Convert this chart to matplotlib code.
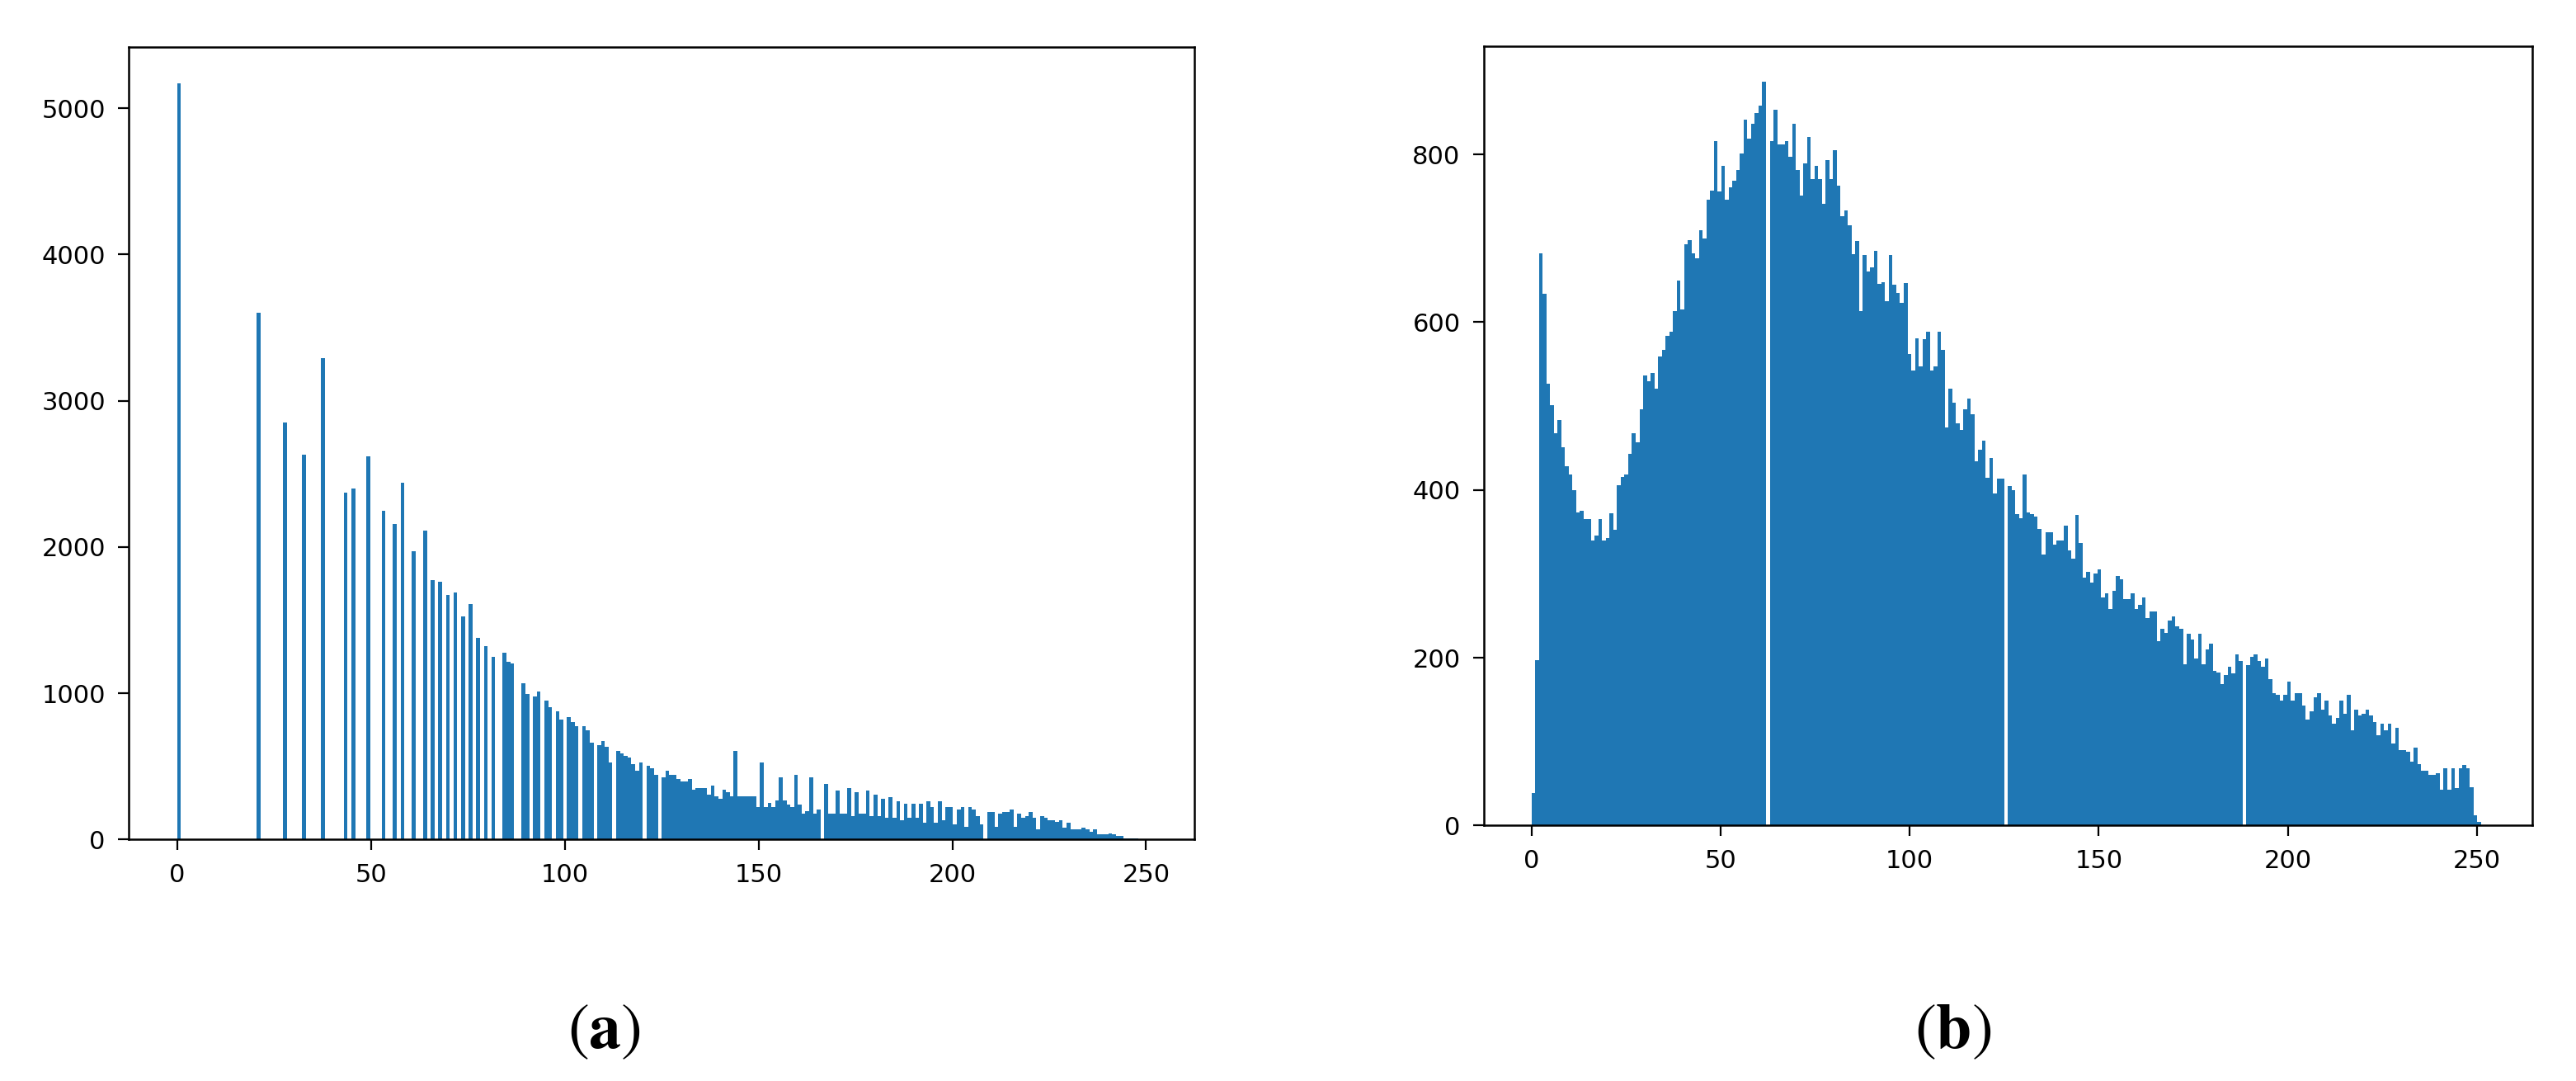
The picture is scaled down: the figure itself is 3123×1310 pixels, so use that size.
import numpy as np
import matplotlib
matplotlib.use("Agg")
import matplotlib.pyplot as plt

# histogram counts, 256 bins per panel
left_range = (0, 250)
left_counts = [
    5170, 0, 0, 0, 0, 0, 0, 0, 0, 0, 0, 0, 0, 0, 0, 0,
    0, 0, 0, 0, 0, 3600, 0, 0, 0, 0, 0, 0, 2850, 0, 0, 0,
    0, 2630, 0, 0, 0, 0, 3290, 0, 0, 0, 0, 0, 2370, 0, 2400, 0,
    0, 0, 2620, 0, 0, 0, 2250, 0, 0, 2160, 0, 2440, 0, 0, 1970, 0,
    0, 2115, 0, 1775, 0, 1762, 0, 1672, 0, 1687, 0, 1525, 0, 1613, 0, 1378,
    0, 1320, 0, 1247, 0, 0, 1277, 1217, 1202, 0, 0, 1070, 997, 0, 981, 1012,
    0, 953, 908, 0, 878, 820, 0, 835, 805, 777, 0, 777, 748, 660, 0, 646,
    675, 632, 530, 0, 604, 589, 574, 560, 515, 472, 530, 0, 502, 487, 442, 0,
    427, 472, 442, 442, 412, 399, 399, 412, 340, 354, 354, 354, 310, 369, 295, 280,
    340, 325, 295, 605, 295, 295, 295, 295, 295, 222, 530, 222, 252, 222, 267, 427,
    267, 237, 222, 442, 237, 179, 194, 427, 179, 208, 0, 382, 177, 177, 337, 177,
    177, 352, 162, 322, 177, 177, 337, 162, 306, 162, 278, 147, 293, 147, 263, 132,
    248, 147, 248, 147, 248, 117, 263, 220, 117, 263, 132, 220, 220, 102, 205, 220,
    86, 220, 205, 162, 102, 0, 190, 190, 86, 177, 190, 190, 205, 86, 177, 147,
    162, 190, 147, 73, 162, 147, 135, 135, 120, 130, 83, 113, 68, 68, 68, 81,
    68, 53, 68, 38, 38, 38, 40, 34, 24, 24, 11, 11, 11, 11, 0, 0,
]

right_range = (0, 252)
right_counts = [
    39, 197, 682, 634, 527, 501, 468, 483, 451, 428, 418, 400, 373, 375, 365, 365,
    340, 346, 365, 340, 343, 372, 352, 406, 415, 418, 443, 468, 457, 496, 536, 530,
    539, 521, 559, 567, 584, 589, 613, 650, 615, 693, 698, 682, 676, 710, 700, 746,
    757, 816, 756, 786, 746, 761, 769, 781, 801, 841, 819, 836, 849, 858, 887, 0,
    816, 853, 812, 812, 816, 797, 836, 781, 751, 789, 821, 771, 786, 771, 741, 793,
    771, 805, 763, 726, 733, 715, 681, 697, 613, 680, 660, 665, 685, 646, 648, 625,
    680, 645, 635, 623, 647, 562, 542, 581, 547, 580, 589, 542, 547, 589, 567, 474,
    521, 504, 479, 472, 496, 509, 490, 434, 448, 459, 414, 438, 396, 413, 413, 0,
    405, 400, 371, 366, 418, 373, 371, 368, 353, 323, 350, 350, 335, 340, 340, 357,
    328, 318, 370, 337, 295, 302, 290, 300, 305, 272, 277, 258, 280, 297, 293, 270,
    270, 277, 258, 263, 272, 247, 255, 255, 220, 234, 230, 244, 249, 237, 234, 192,
    229, 222, 199, 229, 192, 210, 217, 184, 182, 169, 179, 189, 181, 204, 196, 0,
    191, 201, 204, 196, 189, 199, 174, 158, 156, 149, 156, 171, 149, 158, 158, 143,
    126, 136, 153, 158, 138, 149, 131, 121, 128, 149, 133, 156, 113, 138, 131, 133,
    138, 131, 123, 108, 121, 113, 121, 98, 116, 90, 90, 88, 76, 93, 73, 65,
    65, 60, 60, 62, 43, 68, 43, 68, 45, 68, 72, 68, 46, 12, 4, 0,
]

left_yticks = [0, 1000, 2000, 3000, 4000, 5000]
right_yticks = [0, 200, 400, 600, 800]
xticks = [0, 50, 100, 150, 200, 250]
captions = ["(\\mathbf{a})", "(\\mathbf{b})"]

plt.rcParams["mathtext.fontset"] = "stix"
plt.rcParams["font.family"] = "DejaVu Sans"

fig = plt.figure(figsize=(15.615, 6.55), dpi=200)
ax1 = fig.add_axes([0.0500, 0.2233, 0.4137, 0.7334])
ax2 = fig.add_axes([0.5760, 0.2364, 0.4070, 0.7205])


def draw_hist(ax, counts, rng, ylim, yticks):
    edges = np.linspace(rng[0], rng[1], len(counts) + 1)
    centers = (edges[:-1] + edges[1:]) / 2
    ax.hist(centers, bins=edges, weights=counts, color="#1f77b4")
    span = rng[1] - rng[0]
    ax.set_xlim(rng[0] - 0.05 * span, rng[1] + 0.05 * span)
    ax.set_ylim(*ylim)
    ax.set_xticks(xticks)
    ax.set_yticks(yticks)
    ax.tick_params(labelsize=11, length=4.7, width=0.8, pad=5.5)
    for s in ax.spines.values():
        s.set_linewidth(0.9)


draw_hist(ax1, left_counts, left_range, (0, 5420), left_yticks)
draw_hist(ax2, right_counts, right_range, (0, 928.5), right_yticks)

fig.text(732 / 3123, 1 - 1248 / 1310, "$" + captions[0] + "$",
         ha="center", va="center", fontsize=28)
fig.text(2368 / 3123, 1 - 1248 / 1310, "$" + captions[1] + "$",
         ha="center", va="center", fontsize=28)

fig.savefig("out.png", dpi=200)
